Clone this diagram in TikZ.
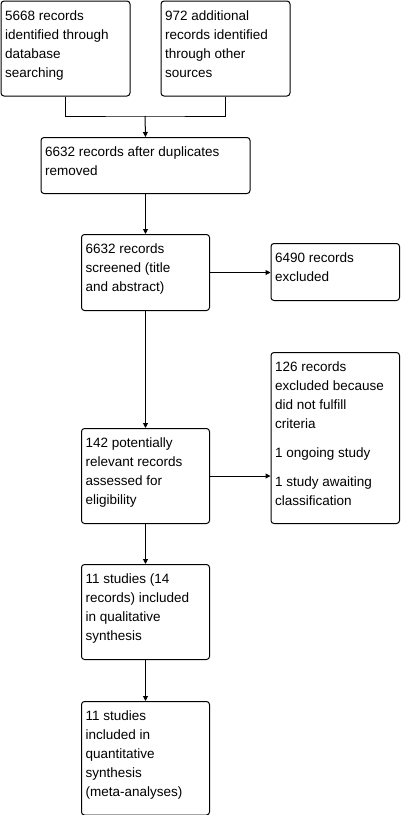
\documentclass[tikz,border=0pt]{standalone}
\usepackage{fontspec}
\setmainfont{Liberation Sans}
\usetikzlibrary{arrows.meta}
\tikzset{
  box/.style={draw, line width=1pt, rounded corners=3pt, inner sep=0pt, anchor=north west},
  txt/.style={inner sep=0pt, anchor=base west, font=\fontsize{13.5}{19}\selectfont},
  arr/.style={line width=1pt, -{Triangle[length=5pt,width=5pt]}},
  ln/.style={line width=1pt}
}
\newcommand\flowbox[6]{%
  \node[box, minimum width=#4pt, minimum height=#5pt] (#1) at (#2pt,-#3pt) {};
  \node[txt] (#1t) at ([xshift=4.5pt,yshift=-19.5pt]#1.north west) {\parbox[t]{#4pt}{\raggedright #6}};
}
\begin{document}
\begin{tikzpicture}
\useasboundingbox (0,0) rectangle (400pt,-815pt);
\fill[white] (0,0) rectangle (400pt,-815pt);
\flowbox{b1}{0.5}{0.5}{129}{95}{5668 records\\identified through\\database\\searching}
\flowbox{b2}{160.5}{0.5}{129}{95}{972 additional\\records identified\\through other\\sources}
\flowbox{b3}{40.5}{137}{209}{56}{6632 records after duplicates\\removed}
\flowbox{b4}{81}{234}{128}{76}{6632 records\\screened (title\\and abstract)}
\flowbox{b5}{270.5}{243}{128.5}{57}{6490 records\\excluded}
\flowbox{b6}{81}{428}{128}{95}{142 potentially\\relevant records\\assessed for\\eligibility}
\flowbox{b7}{270.5}{352}{128.5}{171}{126 records\\excluded because\\did not fulfill\\criteria\\[10pt]1 ongoing study\\[10pt]1 study awaiting\\classification}
\flowbox{b8}{81}{564}{128}{95}{11 studies (14\\records) included\\in qualitative\\synthesis}
\flowbox{b9}{81}{701}{128}{113.5}{11 studies\\included in\\quantitative\\synthesis\\(meta-analyses)}
\coordinate (j) at (145pt,-116pt);
\draw[ln] (b1.south) |- (j) -| (b2.south);
\draw[arr] (j) -- (b3.north);
\draw[arr] (b3.south) -- (b4.north);
\draw[arr] (b4.east) -- (b4.east -| b5.west);
\draw[arr] (b4.south) -- (b6.north);
\draw[arr] (b6.east) -- (b6.east -| b7.west);
\draw[arr] (b6.south) -- (b8.north);
\draw[arr] (b8.south) -- (b9.north);
\end{tikzpicture}
\end{document}
